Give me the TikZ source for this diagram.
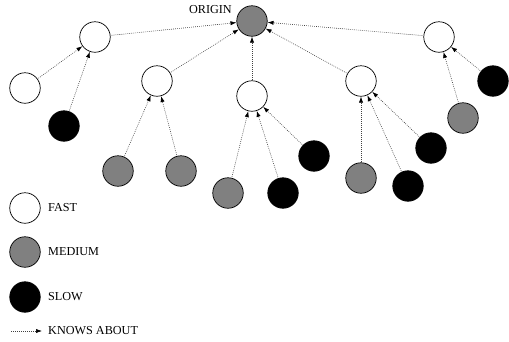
\documentclass[tikz,border=0pt]{standalone}
\usepackage{fontspec}
\setmainfont{Liberation Serif}
\usetikzlibrary{arrows.meta}
\begin{document}
\begin{tikzpicture}[x=1pt,y=-1pt,
  peer/.style={circle,draw=black,line width=0.7pt,inner sep=0pt,minimum size=30.5pt},
  fast/.style={peer,fill=white},
  medium/.style={peer,fill=black!50},
  slow/.style={peer,fill=black},
  knows/.style={draw=black!75,line width=0.6pt,dash pattern=on 0.8pt off 1.2pt,
    -{Latex[length=6pt,width=4.2pt,black]},shorten <=1pt},
  lbl/.style={font=\fontsize{12.2}{14}\selectfont,inner sep=0pt}]
\useasboundingbox (0,0) rectangle (509,341);
% nodes
\node[medium] (origin) at (252,21) {};
\node[lbl,anchor=east] (originlbl) at (232,10) {ORIGIN};
\node[fast] (a) at (95,37) {};
\node[fast] (b) at (25,88) {};
\node[slow] (c) at (64,126) {};
\node[fast] (d) at (157,81) {};
\node[medium] (e) at (118,171) {};
\node[medium] (f) at (181,171) {};
\node[fast] (g) at (252,96) {};
\node[slow] (h) at (314,156) {};
\node[medium] (i) at (228,193) {};
\node[slow] (j) at (283,193) {};
\node[fast] (k) at (361,81) {};
\node[medium] (l) at (361,178) {};
\node[slow] (m) at (408,186) {};
\node[slow] (n) at (431,148) {};
\node[fast] (o) at (439,37) {};
\node[medium] (p) at (463,118) {};
\node[slow] (q) at (493,81) {};
% edges
\draw[knows] (a) -- (origin);
\draw[knows] (b) -- (a);
\draw[knows] (c) -- (a);
\draw[knows] (d) -- (origin);
\draw[knows] (e) -- (d);
\draw[knows] (f) -- (d);
\draw[knows] (g) -- (origin);
\draw[knows] (i) -- (g);
\draw[knows] (j) -- (g);
\draw[knows] (h) -- (g);
\draw[knows] (k) -- (origin);
\draw[knows] (l) -- (k);
\draw[knows] (m) -- (k);
\draw[knows] (n) -- (k);
\draw[knows] (o) -- (origin);
\draw[knows] (p) -- (o);
\draw[knows] (q) -- (o);
% legend
\node[fast] (lfast) at (25,208) {};
\node[lbl,anchor=west] (tfast) at (48,208) {FAST};
\node[medium] (lmed) at (25,252) {};
\node[lbl,anchor=west] (tmed) at (48,252) {MEDIUM};
\node[slow] (lslow) at (25,297) {};
\node[lbl,anchor=west] (tslow) at (48,297) {SLOW};
\coordinate (ka) at (10,331);
\coordinate (kb) at (42,331);
\draw[knows] (ka) -- (kb);
\node[lbl,anchor=west] (tknows) at (48,331) {KNOWS ABOUT};
\end{tikzpicture}
\end{document}
